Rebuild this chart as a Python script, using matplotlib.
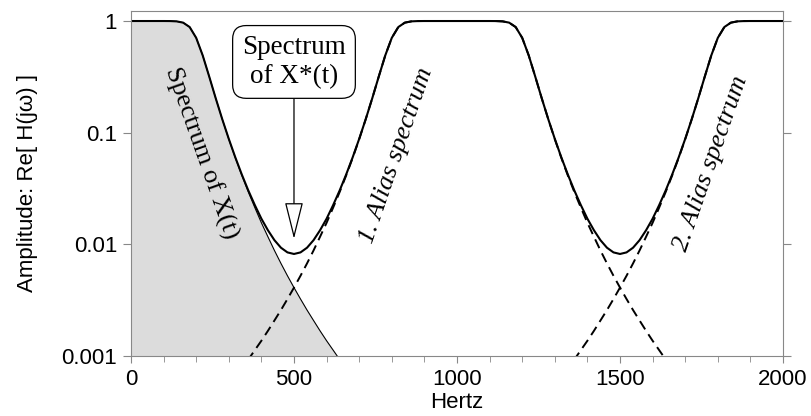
import numpy as np
import matplotlib
matplotlib.use('Agg')
import matplotlib.pyplot as plt
import matplotlib.ticker as ticker

# spectrum of X(t), every 20 Hz (0..700 Hz)
step = 20
base_amp = [1.0, 1.0, 1.0, 1.0, 1.0, 1.0, 0.999, 0.993, 0.967, 0.883,
            0.707, 0.492, 0.318, 0.203, 0.132, 0.0875, 0.0595, 0.0414, 0.0294, 0.0213,
            0.0156, 0.0117, 0.00882, 0.00675, 0.00523, 0.00410, 0.00324, 0.00258, 0.00208, 0.00168,
            0.00137, 0.00113, 0.000931, 0.000774, 0.000647, 0.000544]
base_f = [i * step for i in range(len(base_amp))]

sample_rate = 1000
yticks = [0.001, 0.01, 0.1, 1]
ytick_labels = ['0.001', '0.01', '0.1', '1']
xticks = [0, 500, 1000, 1500, 2000]


def S(d):
    # value of the X(t) spectrum at distance d (Hz) from a copy centre
    i = int(round(abs(d) / step))
    return base_amp[i] if i < len(base_amp) else 0.0


grid = np.arange(0, 2001, step)
total = [S(f) + S(f - sample_rate) + S(f - 2 * sample_rate) for f in grid]
f1 = np.arange(300, 1701, step)
alias1 = [S(f - sample_rate) for f in f1]
f2 = np.arange(1300, 2001, step)
alias2 = [S(f - 2 * sample_rate) for f in f2]

plt.rcParams['font.family'] = ['Liberation Sans', 'DejaVu Sans']
fig = plt.figure(figsize=(8.11, 4.16), dpi=100)
ax = fig.add_axes([0.1615, 0.1442, 0.804, 0.8294])

ax.fill_between(base_f, base_amp, 1e-4, color='#dcdcdc', lw=0)
ax.plot(base_f, base_amp, color='black', lw=0.8)
ax.plot(f1, alias1, color='black', lw=1.4, dashes=(5, 3))
ax.plot(f2, alias2, color='black', lw=1.4, dashes=(5, 3))
ax.plot(grid, total, color='black', lw=1.5)

ax.set_yscale('log')
ax.set_xlim(0, 2000)
ax.set_ylim(0.001, 1.23)
ax.set_yticks(yticks, ytick_labels)
ax.yaxis.set_minor_locator(ticker.NullLocator())
ax.set_xticks(xticks)
ax.xaxis.set_minor_locator(ticker.MultipleLocator(100))

for sp in ax.spines.values():
    sp.set_color('#888888')
ax.tick_params(axis='y', which='both', right=True, direction='out', length=6,
               color='#888888', labelsize=16, pad=4)
ax.tick_params(axis='x', which='major', direction='out', length=5,
               color='#888888', labelsize=16, pad=4)
ax.tick_params(axis='x', which='minor', direction='out', length=4, color='#888888')

ax.set_xlabel('Hertz', fontsize=16, labelpad=2)
ax.set_ylabel('Amplitude: Re[ H(jω) ]', fontsize=16, labelpad=17)

serif = ['Liberation Serif', 'DejaVu Serif']
ax.text(215, 0.065, 'Spectrum of X(t)', rotation=-70.5, ha='center', va='center',
        fontsize=19, family=serif, rotation_mode='anchor')
ax.text(816, 0.063, '1. Alias spectrum', rotation=71, ha='center', va='center',
        fontsize=19, family=serif, style='italic', rotation_mode='anchor')
ax.text(1779, 0.053, '2. Alias spectrum', rotation=70.7, ha='center', va='center',
        fontsize=19, family=serif, style='italic', rotation_mode='anchor')

ax.annotate('Spectrum\nof X*(t)', xy=(500, 0.0112), xytext=(500, 0.43),
            ha='center', va='center', fontsize=19.5, family=serif, linespacing=1.2,
            bbox=dict(boxstyle='round,pad=0.35,rounding_size=0.5', fc='white', ec='black', lw=0.9),
            arrowprops=dict(arrowstyle='-|>,head_length=1.2,head_width=0.3', fc='white',
                            ec='black', lw=0.9, shrinkA=0, shrinkB=0))

fig.savefig('out.png', dpi=100)
